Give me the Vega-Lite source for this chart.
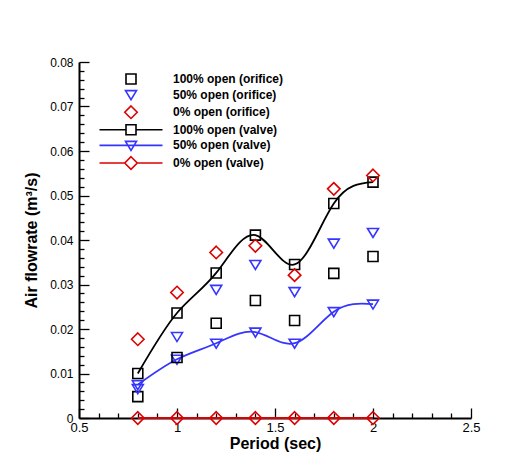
{
  "$schema": "https://vega.github.io/schema/vega-lite/v6.json",
  "width": 392,
  "height": 356,
  "autosize": "none",
  "padding": {"left": 79, "top": 62, "right": 60, "bottom": 48},
  "background": "white",
  "config": {
    "view": {"stroke": null},
    "font": "Liberation Sans",
    "axis": {
      "grid": false,
      "domainColor": "black",
      "domainWidth": 2,
      "tickColor": "black",
      "tickWidth": 1.3,
      "labelColor": "black",
      "labelFont": "Liberation Sans",
      "titleFont": "Liberation Sans",
      "titleColor": "black",
      "titleFontWeight": "bold",
      "titleFontSize": 16
    }
  },
  "data": {
    "values": [
      {"period": 0.8, "flow": 0.0048, "series": "100% open (orifice)", "kind": "orifice"},
      {"period": 1.0, "flow": 0.0136, "series": "100% open (orifice)", "kind": "orifice"},
      {"period": 1.2, "flow": 0.0213, "series": "100% open (orifice)", "kind": "orifice"},
      {"period": 1.4, "flow": 0.0264, "series": "100% open (orifice)", "kind": "orifice"},
      {"period": 1.6, "flow": 0.0219, "series": "100% open (orifice)", "kind": "orifice"},
      {"period": 1.8, "flow": 0.0325, "series": "100% open (orifice)", "kind": "orifice"},
      {"period": 2.0, "flow": 0.0363, "series": "100% open (orifice)", "kind": "orifice"},
      {"period": 0.8, "flow": 0.0066, "series": "50% open (orifice)", "kind": "orifice"},
      {"period": 1.0, "flow": 0.0183, "series": "50% open (orifice)", "kind": "orifice"},
      {"period": 1.2, "flow": 0.0289, "series": "50% open (orifice)", "kind": "orifice"},
      {"period": 1.4, "flow": 0.0345, "series": "50% open (orifice)", "kind": "orifice"},
      {"period": 1.6, "flow": 0.0284, "series": "50% open (orifice)", "kind": "orifice"},
      {"period": 1.8, "flow": 0.0393, "series": "50% open (orifice)", "kind": "orifice"},
      {"period": 2.0, "flow": 0.0417, "series": "50% open (orifice)", "kind": "orifice"},
      {"period": 0.8, "flow": 0.0177, "series": "0% open (orifice)", "kind": "orifice"},
      {"period": 1.0, "flow": 0.0282, "series": "0% open (orifice)", "kind": "orifice"},
      {"period": 1.2, "flow": 0.0372, "series": "0% open (orifice)", "kind": "orifice"},
      {"period": 1.4, "flow": 0.0387, "series": "0% open (orifice)", "kind": "orifice"},
      {"period": 1.6, "flow": 0.0321, "series": "0% open (orifice)", "kind": "orifice"},
      {"period": 1.8, "flow": 0.0515, "series": "0% open (orifice)", "kind": "orifice"},
      {"period": 2.0, "flow": 0.0545, "series": "0% open (orifice)", "kind": "orifice"},
      {"period": 0.8, "flow": 0.0100, "series": "100% open (valve)", "kind": "valve"},
      {"period": 1.0, "flow": 0.0236, "series": "100% open (valve)", "kind": "valve"},
      {"period": 1.2, "flow": 0.0326, "series": "100% open (valve)", "kind": "valve"},
      {"period": 1.4, "flow": 0.0411, "series": "100% open (valve)", "kind": "valve"},
      {"period": 1.6, "flow": 0.0345, "series": "100% open (valve)", "kind": "valve"},
      {"period": 1.8, "flow": 0.0482, "series": "100% open (valve)", "kind": "valve"},
      {"period": 2.0, "flow": 0.0530, "series": "100% open (valve)", "kind": "valve"},
      {"period": 0.8, "flow": 0.0075, "series": "50% open (valve)", "kind": "valve"},
      {"period": 1.0, "flow": 0.0132, "series": "50% open (valve)", "kind": "valve"},
      {"period": 1.2, "flow": 0.0168, "series": "50% open (valve)", "kind": "valve"},
      {"period": 1.4, "flow": 0.0193, "series": "50% open (valve)", "kind": "valve"},
      {"period": 1.6, "flow": 0.0168, "series": "50% open (valve)", "kind": "valve"},
      {"period": 1.8, "flow": 0.0239, "series": "50% open (valve)", "kind": "valve"},
      {"period": 2.0, "flow": 0.0256, "series": "50% open (valve)", "kind": "valve"},
      {"period": 0.8, "flow": 0.0, "series": "0% open (valve)", "kind": "valve"},
      {"period": 1.0, "flow": 0.0, "series": "0% open (valve)", "kind": "valve"},
      {"period": 1.2, "flow": 0.0, "series": "0% open (valve)", "kind": "valve"},
      {"period": 1.4, "flow": 0.0, "series": "0% open (valve)", "kind": "valve"},
      {"period": 1.6, "flow": 0.0, "series": "0% open (valve)", "kind": "valve"},
      {"period": 1.8, "flow": 0.0, "series": "0% open (valve)", "kind": "valve"},
      {"period": 2.0, "flow": 0.0, "series": "0% open (valve)", "kind": "valve"}
    ]
  },
  "encoding": {
    "x": {
      "field": "period",
      "type": "quantitative",
      "scale": {"domain": [0.5, 2.5], "nice": false, "zero": false},
      "axis": {
        "title": "Period (sec)",
        "values": [0.5, 0.6, 0.7, 0.8, 0.9, 1, 1.1, 1.2, 1.3, 1.4, 1.5, 1.6, 1.7, 1.8, 1.9, 2, 2.1, 2.2, 2.3, 2.4, 2.5],
        "format": "~g",
        "labelExpr": "abs(datum.value*2 - round(datum.value*2)) < 0.000001 ? datum.label : ''",
        "tickSize": {"condition": {"test": "abs(datum.value*2 - round(datum.value*2)) < 0.000001", "value": -10}, "value": -5},
        "labelPadding": 13,
        "labelFontSize": 13,
        "labelFlush": false,
        "titlePadding": 1
      }
    },
    "y": {
      "field": "flow",
      "type": "quantitative",
      "scale": {"domain": [0, 0.08], "nice": false},
      "axis": {
        "title": "Air flowrate (m³/s)",
        "values": [0, 0.002, 0.004, 0.006, 0.008, 0.01, 0.012, 0.014, 0.016, 0.018, 0.02, 0.022, 0.024, 0.026, 0.028, 0.03, 0.032, 0.034, 0.036, 0.038, 0.04, 0.042, 0.044, 0.046, 0.048, 0.05, 0.052, 0.054, 0.056, 0.058, 0.06, 0.062, 0.064, 0.066, 0.068, 0.07, 0.072, 0.074, 0.076, 0.078, 0.08],
        "format": "~g",
        "labelExpr": "abs(datum.value*100 - round(datum.value*100)) < 0.000001 ? datum.label : ''",
        "tickSize": {"condition": {"test": "abs(datum.value*100 - round(datum.value*100)) < 0.000001", "value": -10}, "value": -5},
        "labelPadding": 16,
        "labelFontSize": 12,
        "labelFlush": false,
        "titlePadding": 10
      }
    }
  },
  "layer": [
    {
      "transform": [{"filter": "datum.kind == 'valve'"}],
      "mark": {"type": "line", "interpolate": "natural", "strokeWidth": 1.8},
      "encoding": {
        "stroke": {
          "field": "series",
          "type": "nominal",
          "scale": {"domain": ["100% open (valve)", "50% open (valve)", "0% open (valve)"], "range": ["#000000", "#3535ff", "#dd0000"]},
          "legend": null
        }
      }
    },
    {
      "transform": [{"filter": "datum.series == '100% open (valve)'"}],
      "mark": {"type": "point", "filled": false, "size": 100, "strokeWidth": 1.6, "opacity": 1, "color": "#000000", "shape": "M-1,-1H1V1H-1Z"},
      "encoding": {}
    },
    {
      "transform": [{"filter": "datum.series == '50% open (valve)'"}],
      "mark": {"type": "point", "filled": false, "size": 100, "strokeWidth": 1.6, "opacity": 1, "color": "#3535ff", "shape": "M-1.1,-0.8H1.1L0,1Z"},
      "encoding": {}
    },
    {
      "transform": [{"filter": "datum.series == '0% open (valve)'"}],
      "mark": {"type": "point", "filled": false, "size": 100, "strokeWidth": 1.6, "opacity": 1, "color": "#dd0000", "shape": "M0,-1.25L1.25,0L0,1.25L-1.25,0Z"},
      "encoding": {}
    },
    {
      "transform": [{"filter": "datum.kind == 'orifice'"}],
      "mark": {"type": "point", "filled": false, "size": 100, "strokeWidth": 1.6, "opacity": 1},
      "encoding": {
        "color": {
          "field": "series",
          "type": "nominal",
          "scale": {
            "domain": ["100% open (orifice)", "50% open (orifice)", "0% open (orifice)", "100% open (valve)", "50% open (valve)", "0% open (valve)"],
            "range": ["#000000", "#3535ff", "#dd0000", "#000000", "#3535ff", "#dd0000"]
          },
          "legend": {
            "title": null,
            "orient": "none",
            "legendX": 46,
            "legendY": 11,
            "padding": 0,
            "labelFont": "Liberation Sans",
            "labelFontWeight": "bold",
            "labelFontSize": 12,
            "labelColor": "black",
            "labelOffset": 36,
            "rowPadding": -1.4,
            "symbolSize": 100,
            "symbolStrokeWidth": 1.6
          }
        },
        "shape": {
          "field": "series",
          "type": "nominal",
          "scale": {
            "domain": ["100% open (orifice)", "50% open (orifice)", "0% open (orifice)", "100% open (valve)", "50% open (valve)", "0% open (valve)"],
            "range": ["M-1,-1H1V1H-1Z", "M-1.1,-0.8H1.1L0,1Z", "M0,-1.25L1.25,0L0,1.25L-1.25,0Z", "M-1,-1H1V1H-1Z M-6.3,0H-1 M1,0H6.3", "M-1.1,-0.8H1.1L0,1Z M-6.3,0H6.3", "M0,-1.25L1.25,0L0,1.25L-1.25,0Z M-6.3,0H-1.25 M1.25,0H6.3"]
          }
        }
      }
    }
  ]
}
